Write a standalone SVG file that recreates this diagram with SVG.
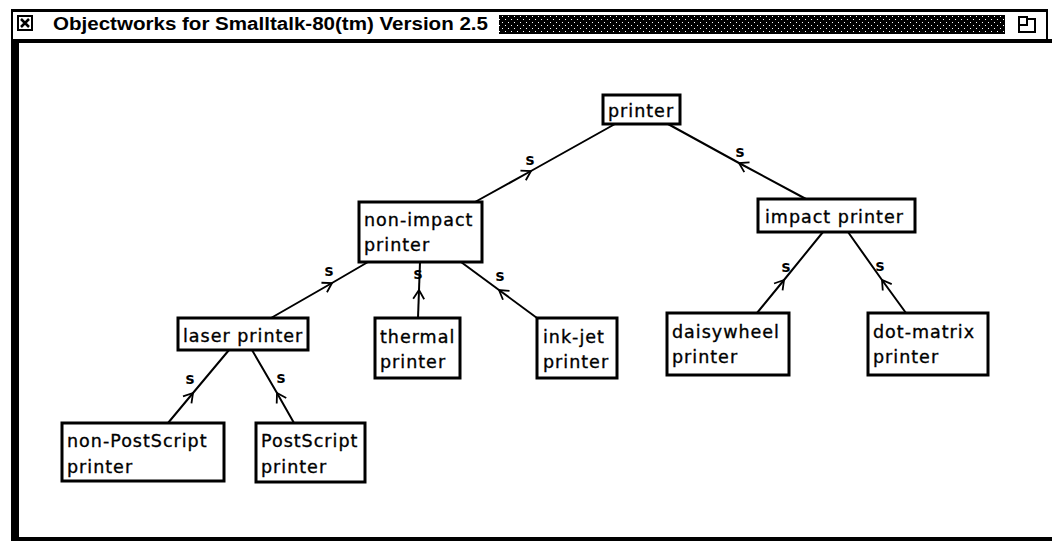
<svg xmlns="http://www.w3.org/2000/svg" width="1052" height="541" viewBox="0 0 1052 541">
<style>
.box{fill:#fff;stroke:#000;stroke-width:3}
.lbl{font-family:"DejaVu Sans",sans-serif;font-size:17.5px;letter-spacing:1px;fill:#000;stroke:#000;stroke-width:0.35}
.s{font-family:"DejaVu Sans",sans-serif;font-size:15px;font-weight:bold;fill:#000;text-anchor:middle}
.edge{fill:none;stroke:#000;stroke-width:2;marker-mid:url(#chev)}
.title{font-family:"Liberation Sans",Arial,sans-serif;font-size:18px;font-weight:bold;fill:#000}
</style>
<defs>
<marker id="chev" markerUnits="userSpaceOnUse" markerWidth="14" markerHeight="14" refX="10" refY="7" orient="auto" overflow="visible">
<path d="M1,1.5 L10,7 L1,12.5" fill="none" stroke="#000" stroke-width="1.8"/>
</marker>
<pattern id="hatch" width="6" height="6" patternUnits="userSpaceOnUse">
<rect width="6" height="6" fill="#000"/>
<rect x="1" y="1" width="1" height="1" fill="#fff"/>
<rect x="4" y="4" width="1" height="1" fill="#fff"/>
</pattern>
</defs>
<rect width="1052" height="541" fill="#fff"/>
<g id="window">
<rect x="11" y="9" width="1037" height="3" fill="#000"/>
<rect x="11" y="9" width="2" height="32" fill="#000"/>
<rect x="1046" y="9" width="2" height="32" fill="#000"/>
<rect x="11" y="39" width="1041" height="4" fill="#000"/>
<rect x="11" y="39" width="8" height="502" fill="#000"/>
<rect x="11" y="537" width="1041" height="4" fill="#000"/>
<rect x="18" y="16" width="14" height="14" fill="none" stroke="#000" stroke-width="2"/>
<path d="M21,19 L29,27 M29,19 L21,27" stroke="#000" stroke-width="2.5"/>
<text class="title" x="53" y="30" textLength="435" lengthAdjust="spacingAndGlyphs">Objectworks for Smalltalk-80(tm) Version 2.5</text>
<rect x="499" y="15" width="506" height="19" fill="url(#hatch)"/>
<path d="M1019,17 H1027 V25 H1019 Z M1019,25 V32 H1035 V19 H1027" fill="none" stroke="#000" stroke-width="2"/>
</g>
<g id="connectors">
<path class="edge" d="M475,202 L531,171 L615,124"/>
<path class="edge" d="M806,199 L739,163 L668,124"/>
<path class="edge" d="M271,318 L332,283 L368,262"/>
<path class="edge" d="M418,318 L419,290 L420,262"/>
<path class="edge" d="M537,318 L499,290 L461,262"/>
<path class="edge" d="M757,313 L784,280 L823,232"/>
<path class="edge" d="M906,313 L882,280 L848,232"/>
<path class="edge" d="M168,423 L193,393 L229,350"/>
<path class="edge" d="M294,423 L277,393 L252,350"/>
<text class="s" x="530" y="165">s</text>
<text class="s" x="740" y="157">s</text>
<text class="s" x="329" y="276">s</text>
<text class="s" x="418" y="279">s</text>
<text class="s" x="500" y="281">s</text>
<text class="s" x="786" y="272">s</text>
<text class="s" x="880" y="271">s</text>
<text class="s" x="190" y="384">s</text>
<text class="s" x="281" y="383">s</text>
</g>
<g id="node-printer"><rect class="box" x="603" y="95" width="77" height="29"/><text class="lbl" x="608" y="117">printer</text></g>
<g id="node-non-impact"><rect class="box" x="359" y="202" width="123" height="60"/><text class="lbl" x="364" y="226">non-impact</text><text class="lbl" x="364" y="251">printer</text></g>
<g id="node-impact"><rect class="box" x="758" y="199" width="157" height="33"/><text class="lbl" x="765" y="223">impact printer</text></g>
<g id="node-laser"><rect class="box" x="178" y="318" width="130" height="32"/><text class="lbl" x="183" y="342">laser printer</text></g>
<g id="node-thermal"><rect class="box" x="375" y="318" width="85" height="60"/><text class="lbl" x="380" y="343">thermal</text><text class="lbl" x="380" y="368">printer</text></g>
<g id="node-ink-jet"><rect class="box" x="537" y="318" width="80" height="60"/><text class="lbl" x="543" y="343">ink-jet</text><text class="lbl" x="543" y="368">printer</text></g>
<g id="node-daisywheel"><rect class="box" x="667" y="313" width="122" height="62"/><text class="lbl" x="672" y="338">daisywheel</text><text class="lbl" x="672" y="363">printer</text></g>
<g id="node-dot-matrix"><rect class="box" x="868" y="313" width="120" height="62"/><text class="lbl" x="873" y="338">dot-matrix</text><text class="lbl" x="873" y="363">printer</text></g>
<g id="node-non-postscript"><rect class="box" x="62" y="423" width="162" height="58"/><text class="lbl" x="67" y="447">non-PostScript</text><text class="lbl" x="67" y="473">printer</text></g>
<g id="node-postscript"><rect class="box" x="256" y="423" width="109" height="59"/><text class="lbl" x="261" y="447">PostScript</text><text class="lbl" x="261" y="473">printer</text></g>
</svg>
